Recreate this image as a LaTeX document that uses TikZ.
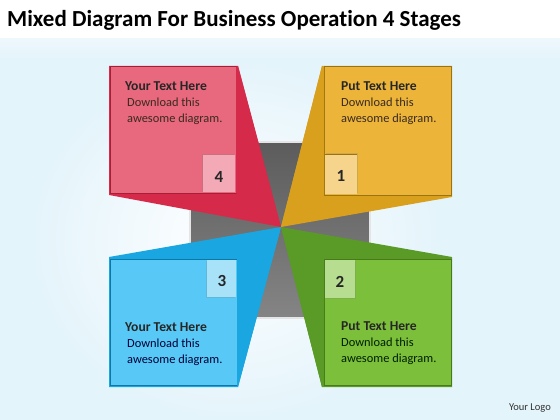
\documentclass[tikz,border=0pt]{standalone}
\usepackage{fontspec}
\setmainfont[Ligatures=NoCommon]{Carlito}
\usetikzlibrary{shadows}
\definecolor{bgblue}{HTML}{E4F4FB}
\definecolor{redwing}{HTML}{D62A4A}
\definecolor{redin}{HTML}{E8697D}
\definecolor{redline}{HTML}{A81E36}
\definecolor{rednum}{HTML}{F3A9B6}
\definecolor{yelwing}{HTML}{D9A01E}
\definecolor{yelin}{HTML}{ECB53A}
\definecolor{yelline}{HTML}{9A7410}
\definecolor{yelnum}{HTML}{F6D48C}
\definecolor{bluwing}{HTML}{1AA6E0}
\definecolor{bluin}{HTML}{58C9F6}
\definecolor{bluline}{HTML}{0B78A8}
\definecolor{blunum}{HTML}{A8E2F9}
\definecolor{grnwing}{HTML}{5A9A26}
\definecolor{grnin}{HTML}{7CBF3A}
\definecolor{grnline}{HTML}{487A1C}
\definecolor{grnnum}{HTML}{B6DD90}
\definecolor{txtdark}{HTML}{3A2A20}
\tikzset{
  headtxt/.style={anchor=west,font=\bfseries\fontsize{13.6}{15}\selectfont,text=black!85,inner sep=0pt},
  bodytxt/.style={anchor=north west,align=left,font=\fontsize{12.4}{16}\selectfont,inner sep=0pt},
  numtxt/.style={font=\bfseries\fontsize{17}{18}\selectfont,text=black!85,inner sep=0pt},
}
\begin{document}
\begin{tikzpicture}[x=1pt,y=-1pt]
\useasboundingbox (0,0) rectangle (560,420);
% background
\shade[top color=white,bottom color=bgblue] (0,0) rectangle (560,60);
\fill[bgblue] (0,60) rectangle (560,420);
\shade[inner color=white,outer color=bgblue] (30,60) rectangle (440,420);
\fill[white] (0,0) rectangle (560,38);
\node[anchor=west,font=\bfseries\fontsize{23}{26}\selectfont,inner sep=0pt] (title) at (7,20) {Mixed Diagram For Business Operation 4 Stages};
\node[anchor=east,font=\fontsize{10.5}{12}\selectfont,text=black!80,inner sep=0pt] (logo) at (551,408) {Your Logo};
% gray square
\coordinate (c) at (281,227);
\shade[top color=black!64,bottom color=black!48,draw=black!10,line width=1.2pt] (190,142) rectangle (370,318);
% red (4)
\fill[redwing] (109,66) -- (238,66) -- (c) -- (109,195) -- cycle;
\fill[redin,draw=redline,line width=1pt] (110,67) rectangle (236,193);
\fill[redwing] (236,67) -- (238,66) -- (c) -- (236,193) -- cycle;
\fill[rednum,drop shadow={opacity=0.25,shadow xshift=-1pt,shadow yshift=1pt}] (203,155) rectangle (235,192);
\node[numtxt] (n4) at (219,177) {4};
\node[headtxt] (h4) at (125,86) {Your Text Here};
\node[bodytxt,text=txtdark] (b4) at (127,98) {Download this\\awesome diagram.};
% yellow (1)
\fill[yelwing] (322,66) -- (452,66) -- (452,197) -- (c) -- cycle;
\fill[yelin,draw=yelline,line width=1pt] (324,67) rectangle (451,195);
\fill[yelwing] (322,66) -- (324,67) -- (324,195) -- (c) -- cycle;
\fill[yelnum,drop shadow={opacity=0.25,shadow xshift=1pt,shadow yshift=1pt}] (325,154) rectangle (357,194);
\draw[yelline,line width=0.8pt] (325,154) -- (357,154);
\node[numtxt] (n1) at (341,176) {1};
\node[headtxt] (h1) at (341,86) {Put Text Here};
\node[bodytxt,text=txtdark] (b1) at (341,98) {Download this\\awesome diagram.};
% blue (3)
\fill[bluwing] (c) -- (109,257) -- (109,387) -- (238,387) -- cycle;
\fill[bluin,draw=bluline,line width=1pt] (110,259) rectangle (237,385);
\fill[bluwing] (c) -- (237,259) -- (237,385) -- (238,387) -- cycle;
\fill[blunum,drop shadow={opacity=0.25,shadow xshift=-1pt,shadow yshift=-1pt}] (207,260) rectangle (236,297);
\node[numtxt] (n3) at (222,281) {3};
\node[headtxt] (h3) at (125,327) {Your Text Here};
\node[bodytxt,text=black!65!blue!60!black] (b3) at (127,339) {Download this\\awesome diagram.};
% green (2)
\fill[grnwing] (c) -- (452,257) -- (452,387) -- (322,387) -- cycle;
\fill[grnin,draw=grnline,line width=1pt] (324,259) rectangle (451,385);
\fill[grnwing] (c) -- (324,259) -- (324,385) -- (322,387) -- cycle;
\fill[grnnum,drop shadow={opacity=0.25,shadow xshift=1pt,shadow yshift=-1pt}] (325,260) rectangle (355,298);
\node[numtxt] (n2) at (340,282) {2};
\node[headtxt] (h2) at (341,326) {Put Text Here};
\node[bodytxt,text=black!70!green!40!black] (b2) at (341,338) {Download this\\awesome diagram.};
\end{tikzpicture}
\end{document}
